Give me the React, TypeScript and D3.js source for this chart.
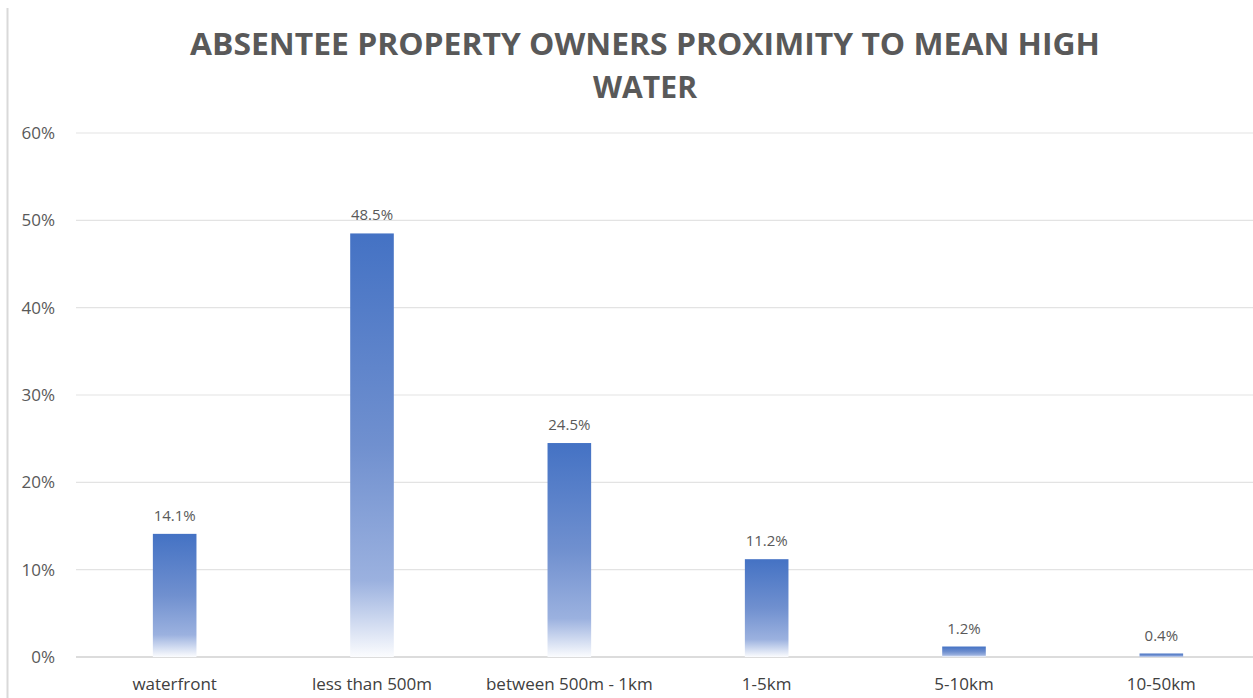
import React from "react";
import * as d3 from "d3";

const categories = ["waterfront", "less than 500m", "between 500m - 1km", "1-5km", "5-10km", "10-50km"];
const values = [14.1, 48.5, 24.5, 11.2, 1.2, 0.4];
const yTicks = [0, 10, 20, 30, 40, 50, 60];
const titleLines = ["ABSENTEE PROPERTY OWNERS PROXIMITY TO MEAN HIGH", "WATER"];
const titleWidths = [910, 104];

const W = 1253;
const H = 698;

export default function App() {
  const x = d3.scaleBand<string>().domain(categories).range([76, 1260]).paddingInner(0).paddingOuter(0);
  const y = d3.scaleLinear().domain([0, 60]).range([657, 133]);
  const bw = x.bandwidth() * 0.221;
  const font = "'Open Sans', Lato, sans-serif";
  return (
    <svg width={W} height={H} style={{ position: "absolute", left: 0, top: 0, background: "#fff" }}>
      <defs>
        <linearGradient id="barGrad" x1="0" y1="0" x2="0" y2="1">
          <stop offset="0" stopColor="#4472C4" />
          <stop offset="0.5" stopColor="#7090cf" />
          <stop offset="0.82" stopColor="#9bb1df" />
          <stop offset="1" stopColor="#fbfcfe" />
        </linearGradient>
      </defs>
      <rect x={0} y={0} width={W} height={H} fill="#fff" />
      <line x1={7.5} x2={7.5} y1={8} y2={H} stroke="#d9d9d9" strokeWidth={2} />
      {titleLines.map((t, i) => (
        <text key={i} x={645} y={55 + i * 43} textAnchor="middle" fontFamily={font} fontWeight={700}
          fontSize={31} fill="#595959" textLength={titleWidths[i]} lengthAdjust="spacingAndGlyphs">{t}</text>
      ))}
      {yTicks.map((t) => (
        <g key={t}>
          <line x1={76} x2={W} y1={y(t)} y2={y(t)} stroke={t === 0 ? "#d0d0d0" : "#e3e3e3"} strokeWidth={t === 0 ? 1.5 : 1.2} />
          <text x={55} y={y(t)} dy="0.36em" textAnchor="end" fontFamily={font} fontSize={17} fill="#595959">{t}%</text>
        </g>
      ))}
      {categories.map((c, i) => {
        const cx = (x(c) as number) + x.bandwidth() / 2;
        return (
          <g key={c}>
            <rect x={cx - bw / 2} y={y(values[i])} width={bw} height={y(0) - y(values[i])} fill="url(#barGrad)" />
            <text x={cx} y={y(values[i]) - 13} textAnchor="middle" fontFamily={font} fontSize={15} fill="#595959">
              {values[i].toFixed(1)}%
            </text>
            <text x={cx} y={690} textAnchor="middle" fontFamily={font} fontSize={17} fill="#404040">{c}</text>
          </g>
        );
      })}
    </svg>
  );
}
